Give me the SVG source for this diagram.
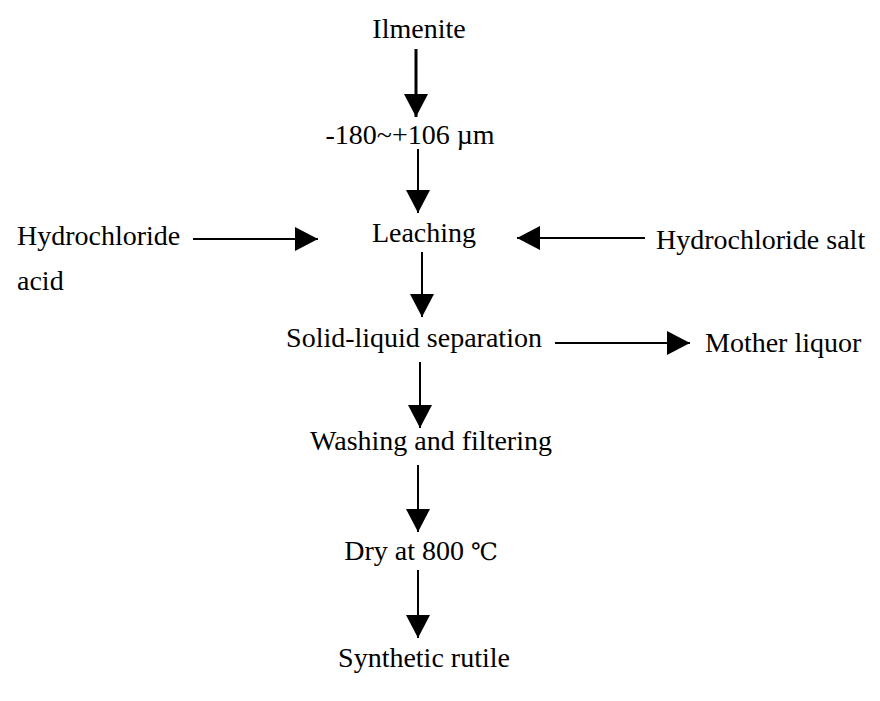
<svg xmlns="http://www.w3.org/2000/svg" width="880" height="701" viewBox="0 0 880 701">
<style>
.c{text-anchor:middle}
.ln{stroke:#000;stroke-width:2;fill:none;marker-end:url(#ah)}
</style>
<defs>
<marker id="ah" markerUnits="userSpaceOnUse" markerWidth="23" markerHeight="24" refX="23" refY="12" orient="auto" viewBox="0 0 23 24">
<path d="M0,0 L23,12 L0,24 Z" fill="#000"/>
</marker>
</defs>
<rect width="880" height="701" fill="#fff"/>
<g id="connectors">
<path class="ln" style="stroke-width:3" d="M416,49 V117"/>
<path class="ln" d="M418,149 V213"/>
<path class="ln" d="M193,239 H318"/>
<path class="ln" d="M645,238 H517"/>
<path class="ln" d="M422,252 V317"/>
<path class="ln" d="M555,343 H690"/>
<path class="ln" d="M420,362 V428"/>
<path class="ln" d="M418,465 V532"/>
<path class="ln" d="M418,570 V638"/>
</g>
<g font-family="Liberation Serif, Times New Roman, DejaVu Serif, serif" font-size="28" fill="#000">
<g id="ilmenite"><text class="c" x="419" y="38">Ilmenite</text></g>
<g id="size"><text class="c" x="410" y="144">-180~+106 µm</text></g>
<g id="leaching"><text class="c" x="424" y="242">Leaching</text></g>
<g id="acid"><text x="17" y="245">Hydrochloride</text><text x="17" y="290">acid</text></g>
<g id="salt"><text x="656" y="249">Hydrochloride salt</text></g>
<g id="separation"><text class="c" x="414" y="347">Solid-liquid separation</text></g>
<g id="mother"><text x="705" y="352">Mother liquor</text></g>
<g id="washing"><text class="c" x="431" y="450">Washing and filtering</text></g>
<g id="dry"><text class="c" x="421" y="560">Dry at 800 <tspan font-size="24">℃</tspan></text></g>
<g id="rutile"><text class="c" x="424" y="667">Synthetic rutile</text></g>
</g>
</svg>
